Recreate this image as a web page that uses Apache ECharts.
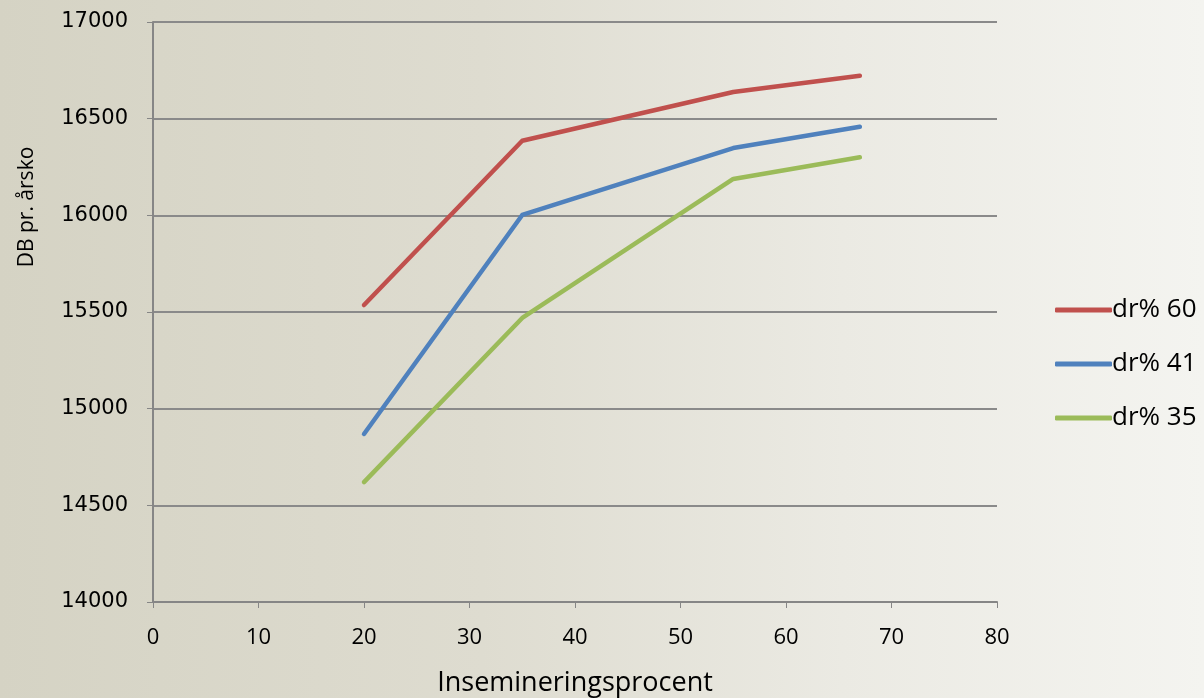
<!DOCTYPE html>
<html>
<head>
<meta charset="utf-8">
<script src="https://cdn.jsdelivr.net/npm/echarts@6/dist/echarts.min.js"></script>
<style>
html,body{margin:0;padding:0;}
#c{width:1204px;height:698px;background:linear-gradient(90deg,#d5d3c4 0%,#dedcd0 40%,#ebeae3 70%,#f4f4f0 100%);}
</style>
</head>
<body>
<div id="c"></div>
<script>
const xValues = [20, 35, 55, 67];
const seriesNames = ['dr% 60', 'dr% 41', 'dr% 35'];
const dr60 = [15536, 16386, 16638, 16722];
const dr41 = [14869, 16002, 16348, 16458];
const dr35 = [14620, 15469, 16188, 16300];
const colors = ['#c0504d', '#4f81bd', '#9bbb59'];
const allData = [dr60, dr41, dr35];

const chart = echarts.init(document.getElementById('c'), null, {renderer: 'canvas'});
const labelFont = 'DejaVu Sans';
const narrowFont = 'Open Sans';
chart.setOption({
  backgroundColor: 'transparent',
  animation: false,
  grid: {left: 153, right: 207, top: 22, bottom: 96, containLabel: false, outerBoundsMode: 'none'},
  legend: {
    orient: 'vertical',
    left: 1050,
    top: 292,
    itemWidth: 57,
    itemHeight: 5,
    itemGap: 28,
    icon: 'roundRect',
    textStyle: {fontFamily: narrowFont, fontSize: 26, color: '#000', padding: [0,0,0,-5]},
    data: seriesNames
  },
  xAxis: {
    type: 'value', min: 0, max: 80, interval: 10,
    name: 'Insemineringsprocent', nameLocation: 'middle', nameGap: 68,
    nameTextStyle: {fontFamily: narrowFont, fontSize: 27, color: '#000'},
    axisLine: {show: true, lineStyle: {color: '#868686', width: 2}},
    axisTick: {show: true, length: 6, lineStyle: {color: '#868686', width: 1}},
    axisLabel: {fontFamily: narrowFont, fontSize: 22, color: '#000', margin: 25},
    splitLine: {show: false}
  },
  yAxis: {
    type: 'value', min: 14000, max: 17000, interval: 500,
    name: 'DB pr. årsko', nameLocation: 'middle', nameGap: 115, nameRotate: 90,
    nameTextStyle: {fontFamily: narrowFont, fontSize: 21, color: '#000', padding: [0, 0, 0, 210]},
    axisLine: {show: true, lineStyle: {color: '#868686', width: 2}},
    axisTick: {show: true, length: 6, lineStyle: {color: '#868686', width: 1}},
    axisLabel: {fontFamily: labelFont, fontSize: 21, color: '#000', margin: 25, formatter: v => String(v)},
    splitLine: {show: true, lineStyle: {color: '#8a8a8a', width: 2}}
  },
  series: seriesNames.map((n, i) => ({
    name: n,
    type: 'line',
    data: xValues.map((x, j) => [x, allData[i][j]]),
    showSymbol: false,
    symbol: 'none',
    itemStyle: {color: colors[i]},
    lineStyle: {color: colors[i], width: 4.5, cap: 'round', join: 'round'}
  }))
});
</script>
</body>
</html>
